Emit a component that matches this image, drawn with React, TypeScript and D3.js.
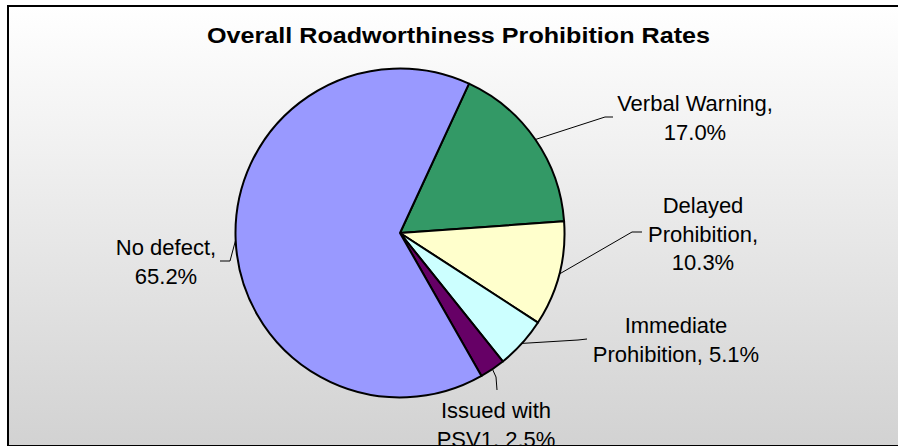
import React from "react";
import * as d3 from "d3";

const categories = ["Verbal Warning", "Delayed Prohibition", "Immediate Prohibition", "Issued with PSV1", "No defect"];
const values = [17.0, 10.3, 5.1, 2.5, 65.2];
const colors = ["#339966", "#FFFFCC", "#CCFFFF", "#660066", "#9999FF"];
const title = "Overall Roadworthiness Prohibition Rates";

// layout (not data)
const W = 898, H = 446;
const cx = 400, cy = 233, R = 164.5;
const startDeg = 24.8;
const labelLayout = [
  { x: 695, y: 111, words: [2, 1], elbow: [605, 117], end: [613, 117] },
  { x: 703, y: 213, words: [1, 1, 1], elbow: [632, 232], end: [642, 232] },
  { x: 676, y: 333, words: [1, 2], elbow: [578, 340], end: [587, 339] },
  { x: 496, y: 418, words: [2, 2], elbow: [496, 377], end: [497, 390] },
  { x: 166, y: 255, words: [2, 1], elbow: [230, 261], end: [220, 261] },
];
const lineH = 28.5;

export default function App() {
  const start = (startDeg * Math.PI) / 180;
  const pie = d3.pie<number>().sort(null).value((d) => d).startAngle(start).endAngle(start + 2 * Math.PI);
  const arcs = pie(values);
  const arc = d3.arc<d3.PieArcDatum<number>>().innerRadius(0).outerRadius(R);
  const fmt = d3.format(".1f");

  return (
    <svg width={W} height={H} style={{ position: "absolute", left: 0, top: 0, display: "block" }}>
      <defs>
        <linearGradient id="bg" x1="0" y1="0" x2="0" y2="1">
          <stop offset="0" stopColor="#ffffff" />
          <stop offset="1" stopColor="#d2d2d2" />
        </linearGradient>
      </defs>
      <rect x={0} y={0} width={W} height={H} fill="#ffffff" />
      <rect x={8} y={6} width={900} height={440} fill="url(#bg)" stroke="#000" strokeWidth={2} />
      <text
        x={207}
        y={43}
        fontFamily="'Liberation Sans', Arial, sans-serif"
        fontWeight="bold"
        fontSize={22}
        textLength={503}
        lengthAdjust="spacingAndGlyphs"
        fill="#000"
      >
        {title}
      </text>
      <g transform={`translate(${cx},${cy})`}>
        {arcs.map((a, i) => (
          <path key={i} d={arc(a) || ""} fill={colors[i]} stroke="#000" strokeWidth={2} strokeLinejoin="round" />
        ))}
      </g>
      {arcs.map((a, i) => {
        const L = labelLayout[i];
        const mid = (a.startAngle + a.endAngle) / 2;
        const px = cx + R * Math.sin(mid);
        const py = cy - R * Math.cos(mid);
        const full = `${categories[i]}, ${fmt(values[i])}%`;
        const words = full.split(" ");
        const lines: string[] = [];
        let k = 0;
        L.words.forEach((n) => {
          lines.push(words.slice(k, k + n).join(" "));
          k += n;
        });
        return (
          <g key={"l" + i}>
            <polyline
              points={`${px},${py} ${L.elbow[0]},${L.elbow[1]} ${L.end[0]},${L.end[1]}`}
              fill="none"
              stroke="#000"
              strokeWidth={1}
            />
            <text
              fontFamily="'Liberation Sans', Arial, sans-serif"
              fontSize={22}
              textAnchor="middle"
              fill="#000"
            >
              {lines.map((ln, j) => (
                <tspan key={j} x={L.x} y={L.y + j * lineH}>
                  {ln}
                </tspan>
              ))}
            </text>
          </g>
        );
      })}
    </svg>
  );
}
